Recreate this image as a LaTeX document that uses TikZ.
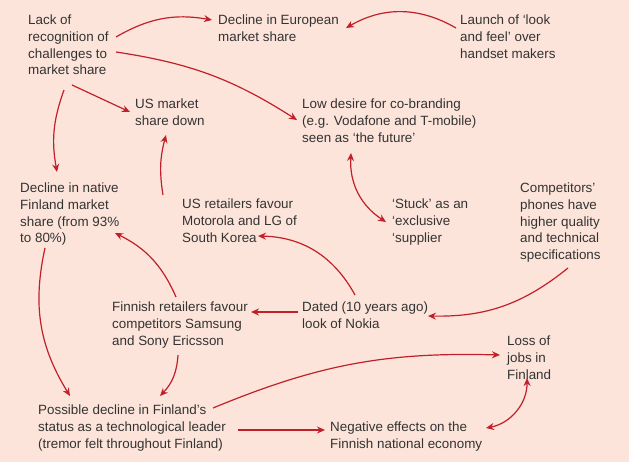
\documentclass[tikz,border=0pt]{standalone}
\usepackage{fontspec}
\setmainfont{Liberation Sans}
\usetikzlibrary{arrows.meta}
\definecolor{bg}{HTML}{FDE4DA}
\definecolor{ar}{HTML}{C0202A}
\definecolor{tx}{HTML}{333333}
\begin{document}
\begin{tikzpicture}[x=1pt,y=-1pt,
  t/.style={anchor=north west,inner sep=0pt,align=left,text=tx,font=\fontsize{13.4}{16.6}\selectfont},
  a/.style={draw=ar,line width=1.2pt,-{Stealth[length=8pt,width=7pt]}},
  aa/.style={draw=ar,line width=1.2pt,{Stealth[length=8pt,width=7pt]}-{Stealth[length=8pt,width=7pt]}}]
\fill[bg] (0,0) rectangle (629,462);
\useasboundingbox (0,0) rectangle (629,462);
\node[t] (lack) at (28,15) {Lack of\\recognition of\\challenges to\\market share};
\node[t] (euro) at (218,15) {Decline in European\\market share};
\node[t] (launch) at (460,15) {Launch of ‘look\\and feel’ over\\handset makers};
\node[t] (us) at (135,99) {US market\\share down};
\node[t] (low) at (302,99) {Low desire for co-branding\\(e.g. Vodafone and T-mobile)\\seen as ‘the future’};
\node[t] (native) at (20,183) {Decline in native\\Finland market\\share (from 93\%\\to 80\%)};
\node[t] (usret) at (182,199) {US retailers favour\\Motorola and LG of\\South Korea};
\node[t] (stuck) at (392,199) {‘Stuck’ as an\\‘exclusive\\‘supplier};
\node[t] (comp) at (520,183) {Competitors’\\phones have\\higher quality\\and technical\\specifications};
\node[t] (finret) at (112,302) {Finnish retailers favour\\competitors Samsung\\and Sony Ericsson};
\node[t] (dated) at (302,302) {Dated (10 years ago)\\look of Nokia};
\node[t] (loss) at (507,336) {Loss of\\jobs in\\Finland};
\node[t] (poss) at (38,405) {Possible decline in Finland’s\\status as a technological leader\\(tremor felt throughout Finland)};
\node[t] (neg) at (330,422) {Negative effects on the\\Finnish national economy};

\draw[a] (116,37) to[bend left=20] (212,20);
\draw[a] (456,28) to[bend right=30] (346,28);
\draw[a] (116,52) to[bend left=12] (297,120);
\draw[a] (72,85) -- (130,112);
\draw[a] (64,90) to[bend right=15] (57,172);
\draw[a] (163,195) to[bend left=12] (166,135);
\draw[aa] (351,153) to[bend right=30] (386,222);
\draw[a] (355,295) to[bend right=30] (258,236);
\draw[a] (568,268) to[bend left=20] (428,316);
\draw[a] (176,297) to[bend right=20] (115,233);
\draw[a] (298,312) -- (251,312);
\draw[a] (45,248) to[bend right=22] (70,396);
\draw[a] (178,355) to[bend left=20] (160,396);
\draw[a] (213,408) to[bend left=12] (500,355);
\draw[a] (238,430) -- (325,430);
\draw[aa] (486,428) to[bend right=40] (527,378);
\end{tikzpicture}
\end{document}
